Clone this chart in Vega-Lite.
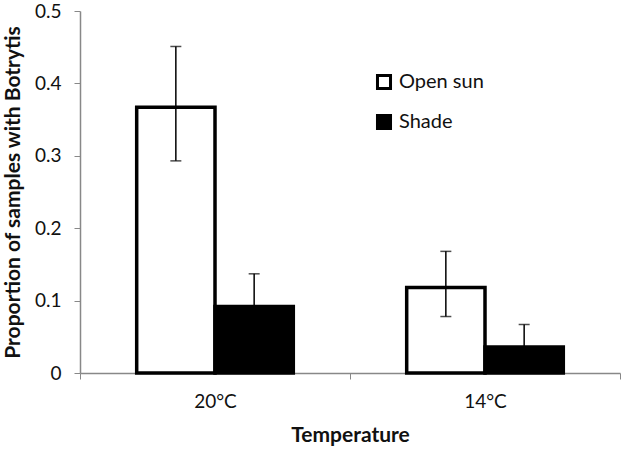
{
  "$schema": "https://vega.github.io/schema/vega-lite/v6.json",
  "autosize": "none",
  "width": 540,
  "height": 362,
  "padding": {"left": 80, "top": 11, "right": 10, "bottom": 78},
  "background": "white",
  "config": {
    "view": {"stroke": null},
    "font": "Lato",
    "axis": {"labelFont": "Lato", "titleFont": "Lato", "labelColor": "#111", "titleColor": "#111", "grid": false, "domainColor": "#888", "tickColor": "#888"},
    "legend": {"labelFont": "Lato"}
  },
  "data": {
    "values": [
      {"temp": "20°C", "cond": "Open sun", "mean": 0.367, "lo": 0.293, "hi": 0.451},
      {"temp": "20°C", "cond": "Shade", "mean": 0.092, "lo": 0.048, "hi": 0.137},
      {"temp": "14°C", "cond": "Open sun", "mean": 0.118, "lo": 0.078, "hi": 0.168},
      {"temp": "14°C", "cond": "Shade", "mean": 0.036, "lo": 0.006, "hi": 0.067}
    ]
  },
  "encoding": {
    "x": {
      "field": "temp", "type": "nominal", "sort": ["20°C", "14°C"],
      "scale": {"paddingInner": 0, "paddingOuter": 0},
      "axis": {"title": "Temperature", "labelAngle": 0, "labelFontSize": 19, "titleFontSize": 21, "titleFontWeight": "bold", "tickBand": "extent", "tickSize": 6, "labelPadding": 13, "titlePadding": 13, "domainWidth": 1.5}
    },
    "xOffset": {"field": "cond", "type": "nominal", "sort": ["Open sun", "Shade"], "scale": {"paddingInner": 0, "paddingOuter": 0.724}}
  },
  "layer": [
    {
      "mark": {"type": "bar", "stroke": "black", "strokeWidth": 3.5},
      "encoding": {
        "y": {
          "field": "mean", "type": "quantitative",
          "scale": {"domain": [0, 0.5], "nice": false},
          "axis": {"title": "Proportion of samples with Botrytis", "values": [0, 0.1, 0.2, 0.3, 0.4, 0.5], "format": ".1~f", "labelFontSize": 19, "titleFontSize": 21, "titleFontWeight": "bold", "tickSize": 6, "labelPadding": 13, "titlePadding": 11, "domainWidth": 1.5}
        },
        "fill": {
          "field": "cond", "type": "nominal", "sort": ["Open sun", "Shade"],
          "scale": {"domain": ["Open sun", "Shade"], "range": ["white", "black"]},
          "legend": {"title": null, "orient": "none", "legendX": 294, "legendY": 61, "symbolType": "square", "symbolSize": 170, "symbolStrokeColor": "black", "symbolStrokeWidth": 3, "labelFontSize": 20, "labelColor": "#111", "rowPadding": 14, "labelOffset": 5}
        }
      }
    },
    {
      "mark": {"type": "rule", "color": "black", "strokeWidth": 1.5},
      "encoding": {
        "y": {"field": "lo", "type": "quantitative"},
        "y2": {"field": "hi"}
      }
    },
    {
      "mark": {"type": "tick", "color": "black", "thickness": 1.5, "size": 11},
      "encoding": {"y": {"field": "hi", "type": "quantitative"}}
    },
    {
      "mark": {"type": "tick", "color": "black", "thickness": 1.5, "size": 11},
      "encoding": {"y": {"field": "lo", "type": "quantitative"}}
    }
  ]
}
